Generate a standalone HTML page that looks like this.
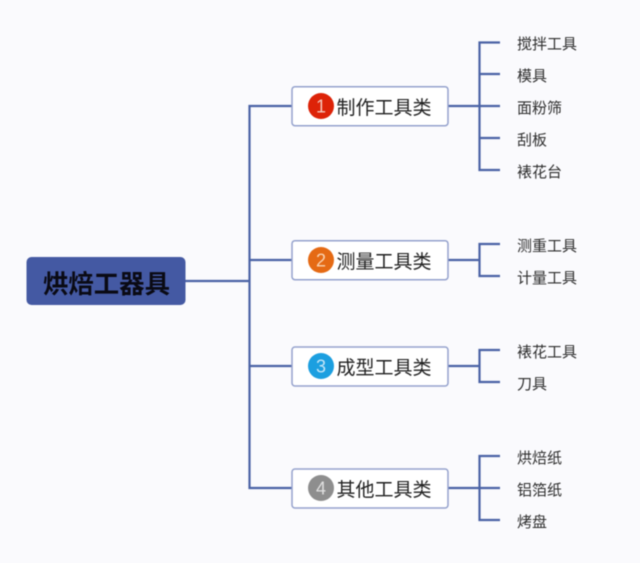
<!DOCTYPE html>
<html>
<head>
<meta charset="utf-8">
<style>
html,body{margin:0;padding:0;background:#fafafd;}
svg{display:block;filter:blur(0.4px);}
text{font-family:"Liberation Sans","Noto Sans CJK SC",sans-serif;}
.leaf{font-size:15px;fill:#2e2e2e;}
.mid{font-size:19px;fill:#222;}
.num{font-size:18px;text-anchor:middle;}
.l{stroke:#4a62a5;stroke-width:2.200;fill:none;}
.box{fill:#fff;stroke:#95a2cd;stroke-width:1.500;}
</style>
</head>
<body>
<svg width="640" height="563" viewBox="0 0 640 563" xmlns="http://www.w3.org/2000/svg">
<rect width="640" height="563" fill="#fafafd"/>
<path class="l" d="M185 281H249.500M292 106H249.500V488H292M249.500 260H292M249.500 366H292"/>
<path class="l" d="M500 42.500H479.500V170H500M479.500 74H500M448 106H500M479.500 138H500"/>
<path class="l" d="M448 260H479.500M500 244H479.500V276H500"/>
<path class="l" d="M448 366H479.500M500 350H479.500V382H500"/>
<path class="l" d="M500 456H479.500V520H500M448 488H500"/>

<rect x="26.500" y="257" width="159" height="48" rx="5" fill="#4459a3"/>
<text x="43" y="293" font-size="25.400" font-weight="700" fill="#0a0a14">烘焙工器具</text>

<rect class="box" x="292" y="86.700" width="156" height="39" rx="3"/>
<circle cx="321" cy="106" r="13" fill="#dd2308"/>
<text class="num" x="321" y="112.500" fill="#f5c4b8">1</text>
<text class="mid" x="336.500" y="114">制作工具类</text>

<rect class="box" x="292" y="240.700" width="156" height="39" rx="3"/>
<circle cx="321" cy="260" r="13" fill="#e56a14"/>
<text class="num" x="321" y="266.500" fill="#f9d2b0">2</text>
<text class="mid" x="336.500" y="268">测量工具类</text>

<rect class="box" x="292" y="347" width="156" height="39" rx="3"/>
<circle cx="321" cy="366" r="13" fill="#1c9fe0"/>
<text class="num" x="321" y="372.500" fill="#c4e6f8">3</text>
<text class="mid" x="336.500" y="374">成型工具类</text>

<rect class="box" x="292" y="469" width="156" height="39" rx="3"/>
<circle cx="321" cy="488" r="13" fill="#8e8e8e"/>
<text class="num" x="321" y="494.500" fill="#e0e0e0">4</text>
<text class="mid" x="336.500" y="496">其他工具类</text>

<text class="leaf" x="517" y="49">搅拌工具</text>
<text class="leaf" x="517" y="81">模具</text>
<text class="leaf" x="517" y="113">面粉筛</text>
<text class="leaf" x="517" y="145">刮板</text>
<text class="leaf" x="517" y="177">裱花台</text>
<text class="leaf" x="517" y="251">测重工具</text>
<text class="leaf" x="517" y="283">计量工具</text>
<text class="leaf" x="517" y="357">裱花工具</text>
<text class="leaf" x="517" y="389">刀具</text>
<text class="leaf" x="517" y="463">烘焙纸</text>
<text class="leaf" x="517" y="495">铝箔纸</text>
<text class="leaf" x="517" y="527">烤盘</text>
</svg>
</body>
</html>
